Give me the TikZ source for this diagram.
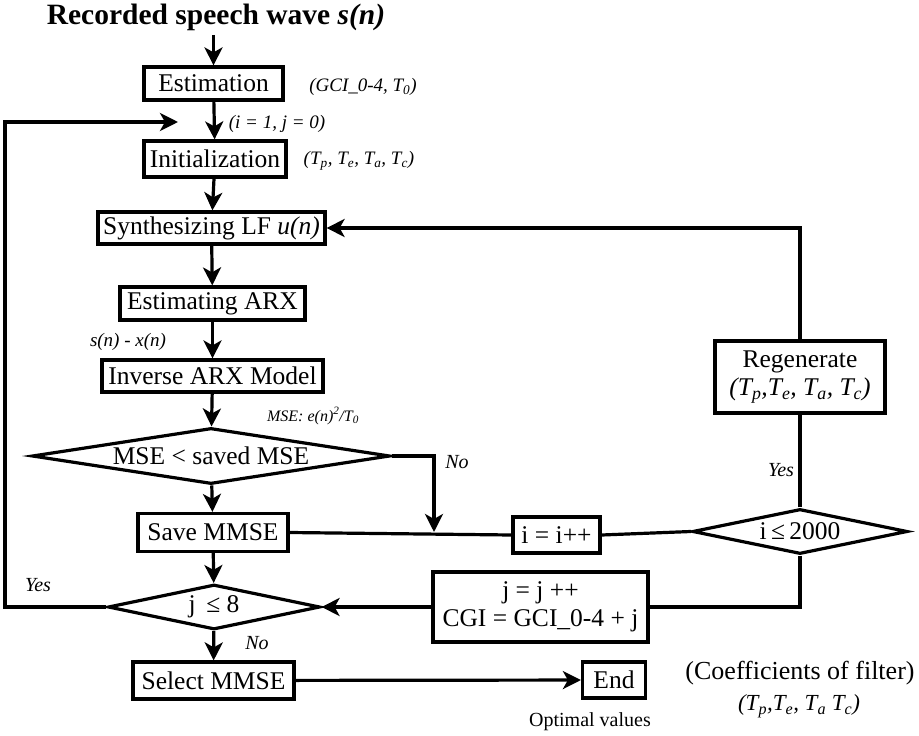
\documentclass[tikz,border=0pt]{standalone}
\usepackage{fontspec}
\setmainfont{Liberation Serif}
\usepackage{tikz}
\usetikzlibrary{arrows.meta,shapes.geometric}
\tikzset{box/.style={draw,line width=3.2pt,inner sep=0pt,font=\fontsize{25.5}{28}\selectfont},
  cond/.style={draw,diamond,line width=3.2pt,inner sep=0pt,font=\fontsize{25.5}{28}\selectfont},
  lab/.style={inner sep=0pt,font=\fontsize{19}{21}\selectfont\itshape},
  yn/.style={inner sep=0pt,font=\fontsize{20}{22}\selectfont\itshape}}

\begin{document}
\begin{tikzpicture}[x=1pt,y=-1pt,>={Stealth[length=18pt,width=18pt,inset=5pt]},line width=3.2pt,line join=miter]
\useasboundingbox (0,0) rectangle (919,736);
% --- main column
\node[inner sep=0pt,font=\fontsize{29.5}{31}\selectfont\bfseries] (title) at (216,17) {Recorded speech wave \textit{s(n)}};
\node[box,minimum width=139pt,minimum height=33pt] (est) at (213.5,83.5) {Estimation};
\node[lab] (lgci) at (363,87) {(GCI\_0-4, T\textsubscript{0})};
\node[box,minimum width=142pt,minimum height=36pt] (init) at (215,159) {Initialization};
\node[lab] (lij) at (277,124) {(i = 1, j = 0)};
\node[lab] (ltinit) at (359,161) {(T\textsubscript{p}, T\textsubscript{e}, T\textsubscript{a}, T\textsubscript{c})};
\node[box,minimum width=227pt,minimum height=32pt] (synth) at (211.5,228) {Synthesizing LF \textit{u(n)}};
\node[box,minimum width=185pt,minimum height=33pt] (arx) at (212.5,303.5) {Estimating ARX};
\node[lab] (lsx) at (128,342) {s(n) - x(n)};
\node[box,minimum width=221pt,minimum height=32pt] (inv) at (212.5,376) {Inverse ARX Model};
\node[lab,font=\fontsize{16}{18}\selectfont\itshape] (lmse) at (313,416) {MSE: e(n)\textsuperscript{2}/T\textsubscript{0}};
\node[cond,aspect=6.4,minimum width=358pt,minimum height=56pt] (mse) at (211,456) {MSE < saved MSE};
\node[yn] (lno1) at (457,462) {No};
\node[box,minimum width=150pt,minimum height=38pt] (save) at (213,532.5) {Save MMSE};
\node[box,minimum width=87pt,minimum height=36pt] (ipp) at (556.5,535) {i = i++};
\node[cond,aspect=4.8,minimum width=215pt,minimum height=45pt] (ilim) at (800,531.5) {i\,≤\,2000};
\node[box,minimum width=170pt,minimum height=72pt,align=center] (regen) at (800,377) {Regenerate\\\textit{(T\textsubscript{p},T\textsubscript{e}, T\textsubscript{a}, T\textsubscript{c})}};
\node[yn] (lyes1) at (781,470) {Yes};
\node[box,minimum width=215pt,minimum height=70pt,align=center] (jinc) at (540.5,607) {j = j ++\\CGI = GCI\_0-4 + j};
\node[cond,aspect=4.7,minimum width=212pt,minimum height=45pt] (jlim) at (214,607) {j \,≤ 8};
\node[yn] (lyes2) at (38,585) {Yes};
\node[yn] (lno2) at (257,643) {No};
\node[box,minimum width=161pt,minimum height=37pt] (sel) at (213.5,680.5) {Select MMSE};
\node[box,minimum width=63pt,minimum height=36pt] (fin) at (614,680) {End};
\node[inner sep=0pt,font=\fontsize{20}{22}\selectfont] (lopt) at (590,722) {Optimal values};
\node[inner sep=0pt,font=\fontsize{26}{28}\selectfont] (lcoef) at (800,673) {(Coefficients of filter)};
\node[inner sep=0pt,font=\fontsize{23}{25}\selectfont\itshape] (lcoeft) at (799,706) {(T\textsubscript{p},T\textsubscript{e}, T\textsubscript{a} T\textsubscript{c})};
\coordinate (loop) at (178,122); \coordinate (join) at (434,532);
% --- connectors
\draw[->] (title.south -| est.north) ++(0,3) -- (est.north);
\draw[->] (est) -- (init); \draw[->] (init) -- (synth); \draw[->] (synth) -- (arx);
\draw[->] (arx) -- (inv); \draw[->] (inv) -- (mse); \draw[->] (mse) -- (save);
\draw[->] (save) -- (jlim); \draw[->] (jlim) -- (sel); \draw[->] (sel) -- (fin);
\draw[->] (mse.east) -| (join);
\draw (save.east) -- (ipp.west); \draw (ipp.east) -- (ilim.west);
\draw (ilim.north) -- (regen.south); \draw[->] (regen.north) |- (synth.east);
\draw (ilim.south) |- (jinc.east); \draw[->] (jinc.west) -- (jlim.east);
\draw[->] (jlim.west) -| (5,400) |- (loop);
\end{tikzpicture}
\end{document}
